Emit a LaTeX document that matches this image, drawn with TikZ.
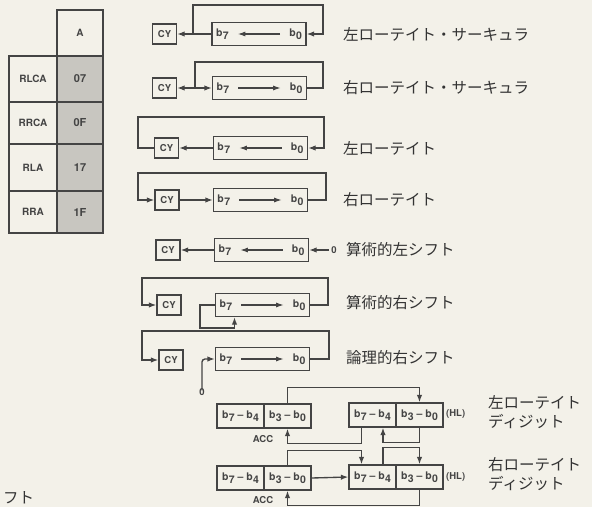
\documentclass[tikz,border=0pt]{standalone}
\usepackage{fontspec}
\newfontfamily\jp{Noto Sans CJK JP}
\newfontfamily\hv{TeX Gyre Heros}
\usetikzlibrary{arrows.meta}
\definecolor{paper}{RGB}{243,241,233}
\definecolor{ink}{RGB}{68,68,68}
\definecolor{shade}{RGB}{200,198,192}
\newcommand{\bs}[1]{b\kern0.4pt\raisebox{-2.8pt}{#1}}
\begin{document}
\begin{tikzpicture}[x=1pt,y=-1pt,
  every node/.style={inner sep=0pt, text=ink},
  line/.style={draw=ink, line width=1.35pt},
  arr/.style={line, -{Latex[length=7.5pt,width=5.5pt]}},
  iarr/.style={draw=ink, line width=1.1pt, -{Latex[length=7.5pt,width=5pt]}, shorten >=9pt, shorten <=9pt},
  cybox/.style={draw=ink, line width=1.35pt, minimum width=24pt, minimum height=20pt, font=\hv\bfseries\fontsize{9.5}{10}\selectfont},
  regbox/.style={draw=ink, line width=1.35pt, minimum width=94pt, minimum height=23pt},
  bl/.style={font=\hv\bfseries\fontsize{10.5}{10}\selectfont},
  nib/.style={draw=ink, line width=1.35pt, minimum width=47pt, minimum height=24pt, font=\hv\bfseries\fontsize{10.5}{10}\selectfont},
  small/.style={font=\hv\bfseries\fontsize{9.5}{10}\selectfont},
  tcell/.style={draw=ink, line width=1.35pt, minimum width=48pt, font=\hv\bfseries\fontsize{10}{10}\selectfont},
  tshade/.style={tcell, fill=shade, minimum width=46pt, font=\hv\bfseries\fontsize{11}{11}\selectfont},
  jptext/.style={anchor=west, align=left, text=black!80, font=\jp\fontsize{15.5}{19}\selectfont}
]
\fill[paper] (0,0) rectangle (592,507);
\useasboundingbox (0,0) rectangle (592,507);

% ---------- table ----------
\node[tshade, fill=none, minimum height=46pt, font=\hv\bfseries\fontsize{10}{10}\selectfont] (tA) at (80,33) {A};
\node[tcell, minimum height=46pt] (t1) at (33,79) {RLCA};
\node[tshade, minimum height=46pt] (v1) at (80,79) {07};
\node[tcell, minimum height=42pt] (t2) at (33,123) {RRCA};
\node[tshade, minimum height=42pt] (v2) at (80,123) {0F};
\node[tcell, minimum height=47pt] (t3) at (33,167.5) {RLA};
\node[tshade, minimum height=47pt] (v3) at (80,167.5) {17};
\node[tcell, minimum height=42pt] (t4) at (33,212) {RRA};
\node[tshade, minimum height=42pt] (v4) at (80,212) {1F};

% ---------- row 1: RLCA ----------
\node[cybox] (c1) at (164.5,34) {CY};
\node[regbox] (r1) at (259,34) {};
\node[bl] (r1a) at ([xshift=11pt]r1.west) {\bs7};
\node[bl] (r1b) at ([xshift=-11pt]r1.east) {\bs0};
\draw[iarr] (r1b) -- (r1a);
\coordinate (j1) at (193,34);
\draw[arr] (r1.west) -- (c1.east);
\draw[arr] (j1) -- (193,5) -| (323,20) |- (r1.east);
\node[jptext] (l1) at (343,34) {左ローテイト・サーキュラ};

% ---------- row 2: RRCA ----------
\node[cybox] (c2) at (164.5,88) {CY};
\node[regbox] (r2) at (259.5,88) {};
\node[bl] (r2a) at ([xshift=11pt]r2.west) {\bs7};
\node[bl] (r2b) at ([xshift=-11pt]r2.east) {\bs0};
\draw[iarr] (r2a) -- (r2b);
\coordinate (j2) at (195,88);
\draw[line] (r2.east) -| (323,62) -| (j2);
\draw[arr] (j2) -- (c2.east);
\draw[arr] (j2) -- (r2.west);
\node[jptext] (l2) at (343,88) {右ローテイト・サーキュラ};

% ---------- row 3: RLA ----------
\node[cybox] (c3) at (166.5,148) {CY};
\node[regbox] (r3) at (260.5,148) {};
\node[bl] (r3a) at ([xshift=11pt]r3.west) {\bs7};
\node[bl] (r3b) at ([xshift=-11pt]r3.east) {\bs0};
\draw[iarr] (r3b) -- (r3a);
\draw[arr] (r3.west) -- (c3.east);
\draw[arr] (c3.west) -- (138,148) |- (324,117) |- (r3.east);
\node[jptext] (l3) at (343,148) {左ローテイト};

% ---------- row 4: RRA ----------
\node[cybox] (c4) at (167,200) {CY};
\node[regbox] (r4) at (260.5,200) {};
\node[bl] (r4a) at ([xshift=11pt]r4.west) {\bs7};
\node[bl] (r4b) at ([xshift=-11pt]r4.east) {\bs0};
\draw[iarr] (r4a) -- (r4b);
\draw[arr] (r4.east) -| (326,173) -| (138,200) -- (c4.west);
\draw[arr] (c4.east) -- (r4.west);
\node[jptext] (l4) at (343,200) {右ローテイト};

% ---------- row 5: SLA ----------
\node[cybox] (c5) at (168,250) {CY};
\node[regbox] (r5) at (261.5,250) {};
\node[bl] (r5a) at ([xshift=11pt]r5.west) {\bs7};
\node[bl] (r5b) at ([xshift=-11pt]r5.east) {\bs0};
\draw[iarr] (r5b) -- (r5a);
\draw[arr] (r5.west) -- (c5.east);
\node[small] (z5) at (334,250) {0};
\draw[arr] ([xshift=-2pt]z5.west) -- (r5.east);
\node[jptext] (l5) at (346,250) {算術的左シフト};

% ---------- row 6: SRA ----------
\node[cybox] (c6) at (169,305) {CY};
\node[regbox] (r6) at (262.5,305) {};
\node[bl] (r6a) at ([xshift=11pt]r6.west) {\bs7};
\node[bl] (r6b) at ([xshift=-11pt]r6.east) {\bs0};
\draw[iarr] (r6a) -- (r6b);
\draw[arr] (r6.east) -| (328,278) -| (142,305) -- (c6.west);
\draw[arr] (r6.west) -| (200,328) -| ([xshift=-28pt]r6.south);
\node[jptext] (l6) at (346,303) {算術的右シフト};

% ---------- row 7: SRL ----------
\node[cybox] (c7) at (171,360) {CY};
\node[regbox] (r7) at (262.5,359) {};
\node[bl] (r7a) at ([xshift=11pt]r7.west) {\bs7};
\node[bl] (r7b) at ([xshift=-11pt]r7.east) {\bs0};
\draw[iarr] (r7a) -- (r7b);
\draw[arr] (r7.east) -| (329,331) -| (142,360) -- (c7.west);
\node[small] (z7) at (202,392) {0};
\draw[arr, rounded corners=3pt] ([yshift=-2pt]z7.north) |- (r7.west);
\node[jptext] (l7) at (346,358) {論理的右シフト};

% ---------- row 8: RLD ----------
\node[nib] (a1h) at (240.5,416) {\bs7 – \bs4};
\node[nib] (a1l) at (287.5,416) {\bs3 – \bs0};
\node[nib] (h1h) at (372.5,415) {\bs7 – \bs4};
\node[nib] (h1l) at (419.5,415) {\bs3 – \bs0};
\node[small] (acc1) at (263,439) {ACC};
\node[small, anchor=west] (hl1) at (446,414) {(HL)};
\draw[arr] (a1l.north) -- ++(0,-16) -| (h1l.north);
\draw[arr] (h1l.south) -- ++(0,15) -| ([xshift=10.5pt]h1h.south);
\draw[arr] ([xshift=-11pt]h1h.south) -- ++(0,16) -| (a1l.south);
\node[jptext] (l8) at (488,412) {左ローテイト\\ディジット};

% ---------- row 9: RRD ----------
\node[nib] (a2h) at (240.5,478) {\bs7 – \bs4};
\node[nib] (a2l) at (287.5,478) {\bs3 – \bs0};
\node[nib] (h2h) at (372.5,477) {\bs7 – \bs4};
\node[nib] (h2l) at (419.5,477) {\bs3 – \bs0};
\node[small] (acc2) at (263,500) {ACC};
\node[small, anchor=west] (hl2) at (446,477) {(HL)};
\draw[arr] (a2l.north) -- ++(0,-15) -| ([xshift=-11pt]h2h.north);
\draw[arr] ([xshift=10.5pt]h2h.north) -- ++(0,-17) -| (h2l.north);
\draw[arr] (a2l.east) -- (h2h.west);
\draw[arr] (h2l.south) -- ++(0,16) -| (a2l.south);
\node[jptext] (l9) at (488,474) {右ローテイト\\ディジット};

% fragment at bottom left
\node[jptext] (frag) at (3,498) {フト};
\end{tikzpicture}
\end{document}
